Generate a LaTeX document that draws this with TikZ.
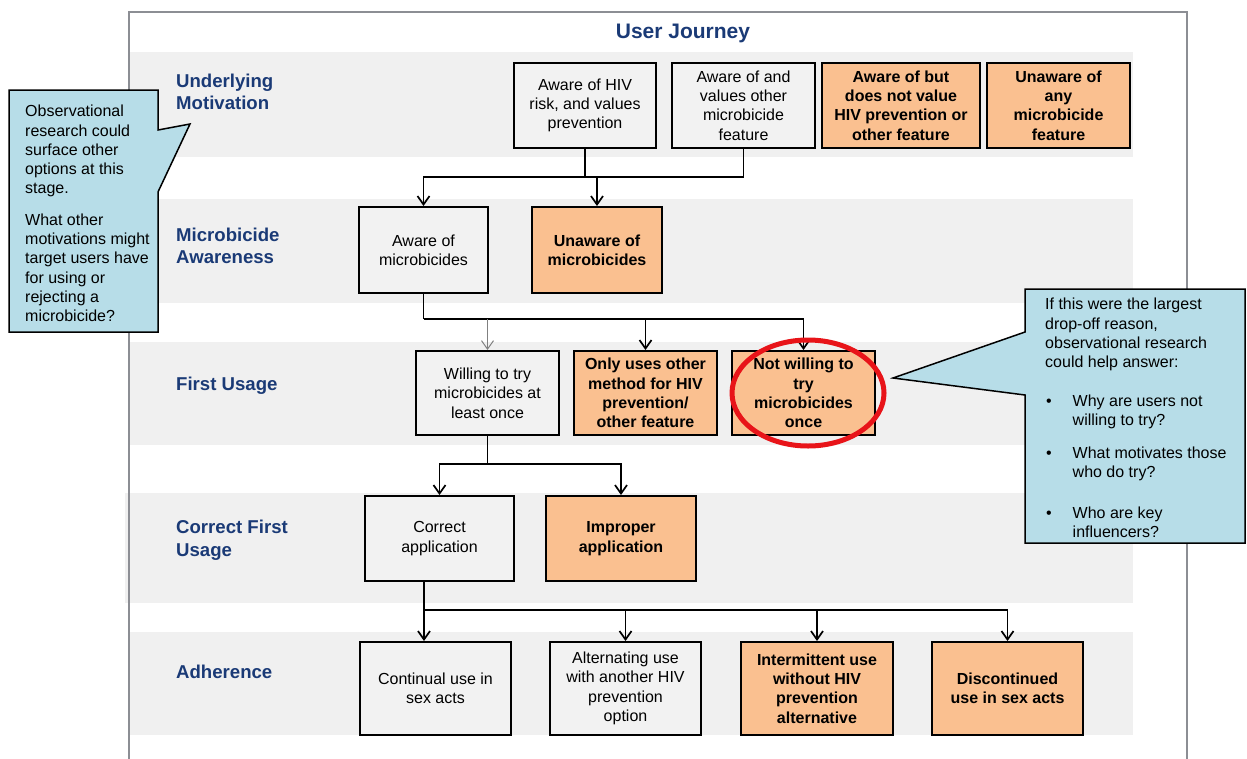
\documentclass[tikz,border=0pt]{standalone}
\usepackage{fontspec}
\setmainfont{Liberation Sans}
\usetikzlibrary{positioning}
\usetikzlibrary{arrows.meta}

\definecolor{bandgray}{RGB}{240,240,240}
\definecolor{boxgray}{RGB}{242,242,242}
\definecolor{dropfill}{RGB}{250,192,144}
\definecolor{noteblue}{RGB}{183,221,232}
\definecolor{stagenavy}{RGB}{26,58,118}
\definecolor{framegray}{RGB}{140,142,148}
\definecolor{ringred}{RGB}{232,20,25}

\begin{document}
\begin{tikzpicture}[x=1pt, y=-1pt,
            node distance = 13pt,
            >={Straight Barb[length=8.5pt,width=12pt]},
            box/.style = {draw,line width=2pt,fill=boxgray,align=center,
                inner sep=0pt,minimum width=143pt,minimum height=85pt,
                font=\fontsize{16}{19.3}\selectfont},
            drop/.style = {box,fill=dropfill,
                font=\fontsize{16}{19.3}\selectfont\bfseries},
            stage/.style = {anchor=west,align=left,text=stagenavy,inner sep=0pt,
                font=\fontsize{18.6}{22.5}\selectfont\bfseries},
            note/.style = {draw,line width=1.5pt,fill=noteblue},
            notetext/.style = {anchor=north west,align=left,inner sep=0pt,
                font=\fontsize{16}{19.3}\selectfont},
            link/.style = {line width=1.7pt}]
            \useasboundingbox (0,0) rectangle (1247,758);
            \fill[bandgray] (130,52) rectangle (1133,157);
            \fill[bandgray] (130,199) rectangle (1133,303);
            \fill[bandgray] (130,342) rectangle (1133,445);
            \fill[bandgray] (125,493) rectangle (1133,603);
            \fill[bandgray] (130,632) rectangle (1133,735);
            \draw[framegray, line width=2.5pt] (129,762) |- (1187,12) -- (1187,762);

            \node[text=stagenavy, font=\fontsize{21}{24}\selectfont\bfseries] (title) at (683,33) {User Journey};
            \node[stage] (s1) at (176,92) {Underlying\\Motivation};
            \node[stage] (s2) at (176,246) {Microbicide\\Awareness};
            \node[stage] (s3) at (176,386) {First Usage};
            \node[stage] (s4) at (176,540) {Correct First\\Usage};
            \node[stage] (s5) at (176,672) {Adherence};

            \node[box, minimum width=142pt](m1) at (585,105.5) {Aware of HIV\\risk, and values\\prevention};
            \node[box, right=14pt of m1](m2) {Aware of and\\values other\\microbicide\\feature};
            \node[drop, right=5pt of m2, minimum width=158pt](m3) {Aware of but\\does not value\\HIV prevention or\\other feature};
            \node[drop, right=5pt of m3](m4) {Unaware of\\any\\microbicide\\feature};

            \node[box, minimum width=129pt, minimum height=86pt](a1) at (423.5,250) {Aware of\\microbicides};
            \node[drop, right=42pt of a1, minimum width=130pt, minimum height=86pt](a2) {Unaware of\\microbicides};

            \node[box, minimum height=84pt](f1) at (487.5,393) {Willing to try\\microbicides at\\least once};
            \node[drop, right=of f1, minimum height=84pt](f2) {Only uses other\\method for HIV\\prevention/\\other feature};
            \node[drop, right=of f2, minimum height=84pt](f3) {Not willing to\\try\\microbicides\\once};

            \node[box, minimum width=149pt](c1) at (439.5,538.5) {Correct\\application};
            \node[drop, right=30pt of c1, minimum width=150pt](c2) {Improper\\application};

            \node[box, minimum width=151pt, minimum height=93pt](d1) at (435.5,688.5) {Continual use in\\sex acts};
            \node[box, right=37pt of d1, minimum width=151pt, minimum height=93pt](d2) {Alternating use\\with another HIV\\prevention\\option};
            \node[drop, right=38pt of d2, minimum width=152pt, minimum height=93pt](d3) {Intermittent use\\without HIV\\prevention\\alternative};
            \node[drop, right=37pt of d3, minimum width=151pt, minimum height=93pt](d4) {Discontinued\\use in sex acts};

            \coordinate (j1) at (585,177);
            \coordinate (j2) at (423.5,319);
            \coordinate (j3) at (487.5,464);
            \coordinate (j4) at (424,610);
            \draw[link] (m1.south) -- (j1);
            \draw[link] (m2.south) |- (j1);
            \draw[link,->] (j1) -| (a1.north);
            \draw[link,->] (a2.north |- j1) -- (a2.north);
            \draw[link] (a1.south) -- (j2);
            \draw[link,->] (j2) -| (f3.north);
            \draw[->, gray, line width=1pt] (f1.north |- j2) -- (f1.north);
            \draw[link,->] (f2.north |- j2) -- (f2.north);
            \draw[link] (f1.south) -- (j3);
            \draw[link,->] (j3) -| (c1.north);
            \draw[link,->] (j3) -| (c2.north);
            \draw[link] (j4 |- c1.south) -- (j4);
            \draw[link,->] (j4) -- (j4 |- d1.north);
            \draw[link,->] (j4) -| (d4.north);
            \draw[link,->] (d2.north |- j4) -- (d2.north);
            \draw[link,->] (d3.north |- j4) -- (d3.north);

            \draw[ringred, line width=5pt] ([xshift=4.5pt]f3.center) ellipse [x radius=76pt, y radius=53pt];

            \draw[note] (9,90) -- (158,90) -- (158,130) -- (190,124) -- (158,192)
                -- (158,332) -- (9,332) -- cycle;
            \node[notetext] (leftnote) at (25,105) {Observational\\research could\\surface other\\options at this\\stage.\\[12pt]What other\\motivations might\\target users have\\for using or\\rejecting a\\microbicide?};

            \draw[note] (1025,289) -- (1245,289) -- (1245,543) -- (1025,543) -- (1025,395)
                -- (893,378) -- (1025,332) -- cycle;
            \node[notetext] (rightnote) at (1045,298) {If this were the largest\\drop-off reason,\\observational research\\could help answer:\\[19pt]
                \makebox[27.5pt][l]{\hspace{1pt}\textbullet}Why are users not\\\hspace*{27.5pt}willing to try?\\[14pt]
                \makebox[27.5pt][l]{\hspace{1pt}\textbullet}What motivates those\\\hspace*{27.5pt}who do try?\\[21pt]
                \makebox[27.5pt][l]{\hspace{1pt}\textbullet}Who are key\\\hspace*{27.5pt}influencers?};
\end{tikzpicture}
\end{document}
